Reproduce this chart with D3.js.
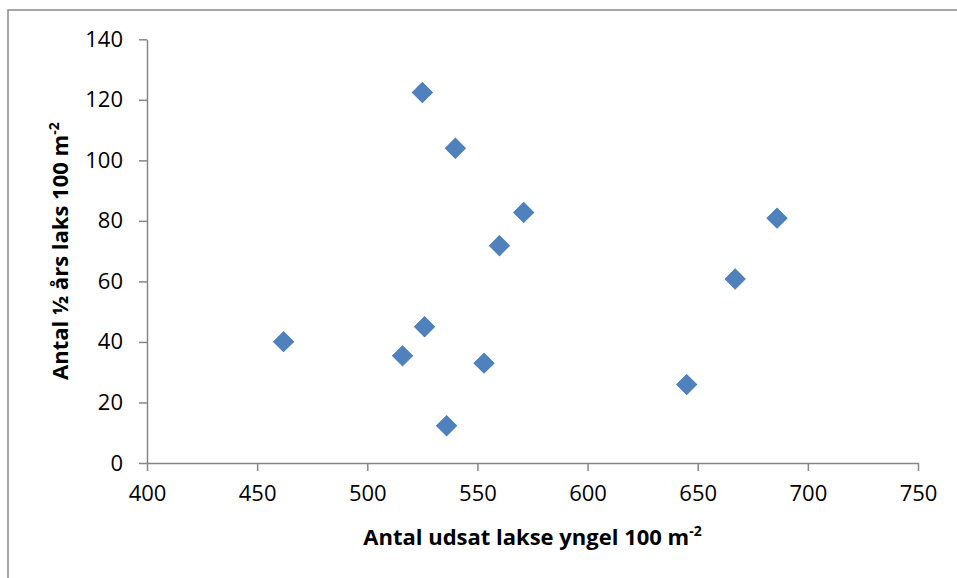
<!DOCTYPE html>
<html>
<head>
<meta charset="utf-8">
<script src="https://cdn.jsdelivr.net/npm/d3@7"></script>
<style>
  html, body { margin: 0; padding: 0; background: #fff; }
  svg { display: block; }
  text { font-family: "Open Sans", "Noto Sans", sans-serif; fill: #000; }
</style>
</head>
<body>
<svg id="chart" width="957" height="578"></svg>
<script>
// Data
const udsatYngel = [462, 516, 526, 536, 553, 525, 540, 571, 560, 686, 667, 645];
const halvAarsLaks = [40.1, 35.4, 45.0, 12.3, 33.0, 122.4, 104.0, 82.8, 71.8, 80.9, 60.8, 25.9];
const xTicks = [400, 450, 500, 550, 600, 650, 700, 750];
const yTicks = [0, 20, 40, 60, 80, 100, 120, 140];
const xTitle = "Antal udsat lakse yngel 100 m";
const yTitle = "Antal \u00BD \u00E5rs laks 100 m";
const titleSup = "-2";

const points = udsatYngel.map((x, i) => ({ x, y: halvAarsLaks[i] }));

const svg = d3.select("#chart");
const W = 957, H = 578;
const plot = { left: 147, right: 918, top: 39.3, bottom: 463 };

// outer chart-area border (top and left visible)
svg.append("rect")
  .attr("x", 8).attr("y", 10)
  .attr("width", W + 20).attr("height", H + 20)
  .attr("fill", "#fff").attr("stroke", "#898989").attr("stroke-width", 1.5);

const x = d3.scaleLinear().domain([400, 750]).range([plot.left, plot.right]);
const y = d3.scaleLinear().domain([0, 140]).range([plot.bottom, plot.top]);

const axisColor = "#868686";

// X axis
const gx = svg.append("g")
  .attr("transform", `translate(0,${plot.bottom})`)
  .call(d3.axisBottom(x).tickValues(xTicks).tickSize(8).tickPadding(14).tickSizeOuter(0));
gx.select(".domain").attr("stroke", axisColor).attr("stroke-width", 1.5);
gx.selectAll(".tick line").attr("stroke", axisColor).attr("stroke-width", 1.5);
gx.selectAll(".tick text").attr("font-size", 22).attr("font-family", "Open Sans").attr("fill", "#000");

// Y axis
const gy = svg.append("g")
  .attr("transform", `translate(${plot.left},0)`)
  .call(d3.axisLeft(y).tickValues(yTicks).tickSize(8).tickPadding(16).tickSizeOuter(0));
gy.select(".domain").attr("stroke", axisColor).attr("stroke-width", 1.5);
gy.selectAll(".tick line").attr("stroke", axisColor).attr("stroke-width", 1.5);
gy.selectAll(".tick text").attr("font-size", 22).attr("font-family", "Open Sans").attr("fill", "#000");

// Markers (diamonds)
const diamond = d3.symbol().type(d3.symbolSquare).size(200);
svg.append("g").selectAll("path")
  .data(points)
  .join("path")
  .attr("d", diamond)
  .attr("transform", d => `translate(${x(d.x)},${y(d.y)}) rotate(45)`)
  .attr("fill", "#4F81BD")
  .attr("stroke", "#4A7EBB")
  .attr("stroke-width", 1);

// X axis title
const xt = svg.append("text")
  .attr("x", (plot.left + plot.right) / 2)
  .attr("y", 545)
  .attr("text-anchor", "middle")
  .attr("font-size", 22)
  .attr("font-weight", "bold");
xt.append("tspan").text(xTitle);
xt.append("tspan").attr("font-size", 14).attr("dy", -9).text(titleSup);

// Y axis title
const yt = svg.append("text")
  .attr("transform", `translate(68,${(plot.top + plot.bottom) / 2}) rotate(-90)`)
  .attr("text-anchor", "middle")
  .attr("font-size", 22)
  .attr("font-weight", "bold");
yt.append("tspan").text(yTitle);
yt.append("tspan").attr("font-size", 14).attr("dy", -9).text(titleSup);
</script>
</body>
</html>
